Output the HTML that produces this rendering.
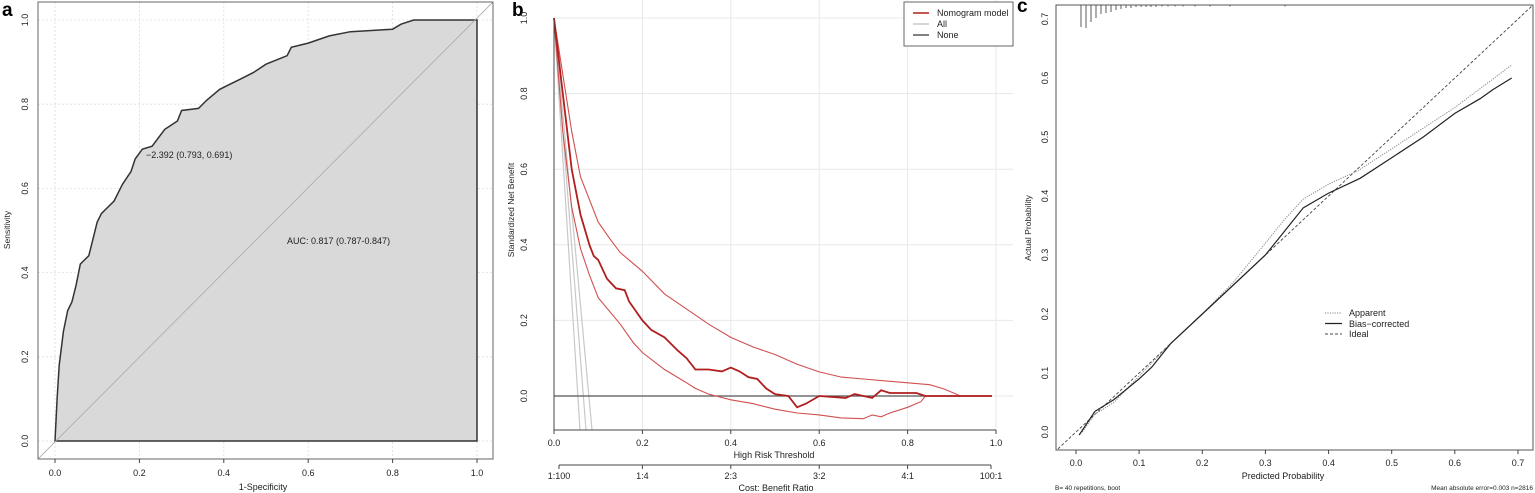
<!DOCTYPE html>
<html><head><meta charset="utf-8"><style>
html,body{margin:0;padding:0;background:#fff;}
svg{display:block;font-family:"Liberation Sans",Arial,sans-serif;}
</style></head><body>
<svg width="1535" height="493" viewBox="0 0 1535 493" xmlns="http://www.w3.org/2000/svg">
<defs>
<clipPath id="ca"><rect x="38" y="2" width="455" height="457"/></clipPath>
<clipPath id="cb"><rect x="520" y="0" width="500" height="430"/></clipPath>
<clipPath id="cc"><rect x="1056" y="5" width="477" height="445"/></clipPath>
</defs>
<rect width="1535" height="493" fill="#fff"/>

<!-- Panel a -->
<text x="2" y="16" font-size="19" font-weight="bold">a</text>
<g stroke="#ddd" stroke-dasharray="2,2" stroke-width="0.8">
<line x1="55" y1="2" x2="55" y2="459"/><line x1="139.4" y1="2" x2="139.4" y2="459"/><line x1="223.8" y1="2" x2="223.8" y2="459"/><line x1="308.2" y1="2" x2="308.2" y2="459"/><line x1="392.6" y1="2" x2="392.6" y2="459"/><line x1="477" y1="2" x2="477" y2="459"/>
<line x1="38" y1="20" x2="493" y2="20"/><line x1="38" y1="104.2" x2="493" y2="104.2"/><line x1="38" y1="188.4" x2="493" y2="188.4"/><line x1="38" y1="272.6" x2="493" y2="272.6"/><line x1="38" y1="356.8" x2="493" y2="356.8"/><line x1="38" y1="441" x2="493" y2="441"/>
</g>
<polygon fill="#d9d9d9" stroke="#333" stroke-width="1.5" points="55,441 57.1,398.9 59.2,365.2 63.4,331.5 67.7,310.5 71.9,302.0 76.1,285.2 80.3,264.1 84.5,259.9 88.8,255.7 93.0,238.9 97.2,222.0 101.4,213.6 105.6,209.4 114.1,201.0 118.3,192.6 122.5,184.2 131.0,171.5 135.2,158.9 142.4,149.1 152.1,146.2 164.7,129.4 177.4,121.0 181.6,110.5 198.5,108.4 206.9,100.0 219.6,89.4 228.0,85.2 240.7,78.9 253.3,72.6 266.0,64.2 287.1,55.7 291.3,47.3 308.2,43.1 329.3,35.9 350.4,31.7 392.6,29.2 401.0,24.2 413.7,20 477,20 477,441"/>
<g clip-path="url(#ca)"><line x1="38" y1="459" x2="493" y2="2" stroke="#aaa" stroke-width="0.8"/></g>
<rect x="38" y="2" width="455" height="457" fill="none" stroke="#666" stroke-width="1"/>
<g stroke="#444"><line x1="55" y1="459" x2="55" y2="463"/><line x1="139.4" y1="459" x2="139.4" y2="463"/><line x1="223.8" y1="459" x2="223.8" y2="463"/><line x1="308.2" y1="459" x2="308.2" y2="463"/><line x1="392.6" y1="459" x2="392.6" y2="463"/><line x1="477" y1="459" x2="477" y2="463"/></g>
<g font-size="9" fill="#222" text-anchor="middle">
<text x="55" y="476">0.0</text><text x="139.4" y="476">0.2</text><text x="223.8" y="476">0.4</text><text x="308.2" y="476">0.6</text><text x="392.6" y="476">0.8</text><text x="477" y="476">1.0</text>
<text x="263" y="490">1-Specificity</text>
<text transform="translate(28,441) rotate(-90)">0.0</text><text transform="translate(28,356.8) rotate(-90)">0.2</text><text transform="translate(28,272.6) rotate(-90)">0.4</text><text transform="translate(28,188.4) rotate(-90)">0.6</text><text transform="translate(28,104.2) rotate(-90)">0.8</text><text transform="translate(28,20) rotate(-90)">1.0</text>
<text transform="translate(10,230) rotate(-90)" font-size="8.5">Sensitivity</text>
</g>
<text x="146" y="158" font-size="9" fill="#222">−2.392 (0.793, 0.691)</text>
<text x="287" y="244" font-size="9" fill="#222">AUC: 0.817 (0.787-0.847)</text>

<!-- Panel b -->
<text x="512" y="16" font-size="19" font-weight="bold">b</text>
<g stroke="#e8e8e8" stroke-width="1">
<line x1="642.4" y1="0" x2="642.4" y2="430"/><line x1="730.8" y1="0" x2="730.8" y2="430"/><line x1="819.2" y1="0" x2="819.2" y2="430"/><line x1="907.6" y1="0" x2="907.6" y2="430"/><line x1="996" y1="0" x2="996" y2="430"/>
<line x1="554" y1="18" x2="1013" y2="18"/><line x1="554" y1="93.6" x2="1013" y2="93.6"/><line x1="554" y1="169.2" x2="1013" y2="169.2"/><line x1="554" y1="244.8" x2="1013" y2="244.8"/><line x1="554" y1="320.4" x2="1013" y2="320.4"/><line x1="554" y1="396" x2="1013" y2="396"/>
</g>
<g clip-path="url(#cb)" fill="none">
<line x1="554" y1="18" x2="580" y2="430" stroke="#c8c8c8" stroke-width="1.2"/>
<line x1="554" y1="18" x2="586" y2="430" stroke="#c8c8c8" stroke-width="1.2"/>
<line x1="554" y1="18" x2="592" y2="430" stroke="#c8c8c8" stroke-width="1.2"/>
<line x1="554" y1="396" x2="992" y2="396" stroke="#555" stroke-width="1.2"/>
<polyline stroke="#d05050" stroke-width="1.1" points="554,18 571.7,131.4 580.5,176.8 598.2,222.1 608.8,237.3 620.1,252.4 642.4,271.3 664.5,293.9 686.6,309.1 708.7,324.2 730.8,337.4 752.9,346.9 775,354.5 797.1,364.3 819.2,371.9 841.3,377.1 863.4,379.0 885.5,380.9 907.6,382.8 929.7,384.7 943,388.6 951.8,392.2 960.6,396 992,396"/>
<polyline stroke="#d05050" stroke-width="1.1" points="554,18 562.8,131.4 571.7,207 580.5,248.6 589.4,275 598.2,297.7 620.3,324.2 633.6,343.1 642.4,352.5 664.5,369.5 686.6,382.8 695.4,388.4 708.7,394.1 730.8,399.8 752.9,403.6 775,409.2 797.1,413.0 819.2,414.9 841.3,417.9 863.4,418.7 872.2,414.9 881.1,416.8 889.9,413.0 907.6,407.3 920.9,401.7 925.3,396 992,396"/>
<polyline stroke="#b01e1e" stroke-width="1.8" points="554,18 562.8,93.6 571.7,169.2 580.5,214.6 589.4,244.8 593.8,256.1 598.2,259.9 607,278.8 615.9,288.3 624.7,290.2 629.1,301.5 642.4,320.4 651.2,329.9 664.5,337.4 677.8,350.6 686.6,358.2 695.4,369.5 708.7,369.5 721.9,371.4 730.8,367.6 739.6,371.4 748.4,377.1 757.3,379 766.1,388.4 775,394.1 788.3,396 797.1,407.3 806,403.6 819.2,396 845.7,397.9 854.6,394.1 863.4,396 872.2,397.9 881.1,390.3 889.9,393 916.4,393 925.3,396 992,396"/>
</g>
<line x1="554" y1="18" x2="554" y2="430" stroke="#444"/>
<line x1="554" y1="430" x2="996" y2="430" stroke="#444"/>
<g stroke="#444"><line x1="554" y1="430" x2="554" y2="434"/><line x1="642.4" y1="430" x2="642.4" y2="434"/><line x1="730.8" y1="430" x2="730.8" y2="434"/><line x1="819.2" y1="430" x2="819.2" y2="434"/><line x1="907.6" y1="430" x2="907.6" y2="434"/><line x1="996" y1="430" x2="996" y2="434"/>
<line x1="559" y1="465" x2="991" y2="465"/><line x1="559" y1="465" x2="559" y2="469"/><line x1="642.4" y1="465" x2="642.4" y2="469"/><line x1="730.8" y1="465" x2="730.8" y2="469"/><line x1="819.2" y1="465" x2="819.2" y2="469"/><line x1="907.6" y1="465" x2="907.6" y2="469"/><line x1="991" y1="465" x2="991" y2="469"/></g>
<g font-size="9" fill="#222" text-anchor="middle">
<text x="554" y="446">0.0</text><text x="642.4" y="446">0.2</text><text x="730.8" y="446">0.4</text><text x="819.2" y="446">0.6</text><text x="907.6" y="446">0.8</text><text x="996" y="446">1.0</text>
<text x="774" y="458">High Risk Threshold</text>
<text x="559" y="479">1:100</text><text x="642.4" y="479">1:4</text><text x="730.8" y="479">2:3</text><text x="819.2" y="479">3:2</text><text x="907.6" y="479">4:1</text><text x="991" y="479">100:1</text>
<text x="776" y="491">Cost: Benefit Ratio</text>
<text transform="translate(527,396) rotate(-90)">0.0</text><text transform="translate(527,320.4) rotate(-90)">0.2</text><text transform="translate(527,244.8) rotate(-90)">0.4</text><text transform="translate(527,169.2) rotate(-90)">0.6</text><text transform="translate(527,93.6) rotate(-90)">0.8</text><text transform="translate(527,18) rotate(-90)">1.0</text>
<text transform="translate(514,210) rotate(-90)" font-size="8.5">Standardized Net Benefit</text>
</g>
<rect x="904" y="2" width="109" height="44" fill="#fff" stroke="#666"/>
<line x1="913" y1="13" x2="929" y2="13" stroke="#b01e1e" stroke-width="1.5"/>
<line x1="913" y1="24" x2="929" y2="24" stroke="#c8c8c8" stroke-width="1.5"/>
<line x1="913" y1="35" x2="929" y2="35" stroke="#555" stroke-width="1.5"/>
<g font-size="9" fill="#222"><text x="937" y="16">Nomogram model</text><text x="937" y="27">All</text><text x="937" y="38">None</text></g>

<!-- Panel c -->
<text x="1017" y="12" font-size="19" font-weight="bold">c</text>
<g stroke="#333" stroke-width="0.8">
<line x1="1081" y1="5" x2="1081" y2="27"/><line x1="1086" y1="5" x2="1086" y2="28"/><line x1="1091" y1="5" x2="1091" y2="22"/><line x1="1096" y1="5" x2="1096" y2="18"/><line x1="1101" y1="5" x2="1101" y2="14"/><line x1="1106" y1="5" x2="1106" y2="13"/><line x1="1111" y1="5" x2="1111" y2="12"/><line x1="1116" y1="5" x2="1116" y2="10"/><line x1="1121" y1="5" x2="1121" y2="9"/><line x1="1126" y1="5" x2="1126" y2="8"/><line x1="1131" y1="5" x2="1131" y2="8"/><line x1="1136" y1="5" x2="1136" y2="7"/><line x1="1141" y1="5" x2="1141" y2="7"/><line x1="1146" y1="5" x2="1146" y2="7"/><line x1="1151" y1="5" x2="1151" y2="7"/><line x1="1156" y1="5" x2="1156" y2="7"/><line x1="1162" y1="5" x2="1162" y2="6.5"/><line x1="1168" y1="5" x2="1168" y2="6.5"/><line x1="1175" y1="5" x2="1175" y2="6.5"/><line x1="1183" y1="5" x2="1183" y2="6.5"/><line x1="1195" y1="5" x2="1195" y2="6.5"/><line x1="1210" y1="5" x2="1210" y2="6.5"/><line x1="1230" y1="5" x2="1230" y2="6.5"/><line x1="1285" y1="5" x2="1285" y2="6.5"/>
</g>
<g clip-path="url(#cc)" fill="none">
<line x1="1036" y1="469.4" x2="1536" y2="2.2" stroke="#444" stroke-width="0.9" stroke-dasharray="3,2"/>
<polyline stroke="#888" stroke-width="1" stroke-dasharray="1.2,1.2" points="1082.3,432 1094.9,414.3 1113.9,402.5 1139.1,376 1170.7,343.5 1202.3,314 1233.9,281.6 1265.4,243.1 1284.4,219.6 1303.3,199 1328.6,184.2 1360.1,169.4 1391.7,148.8 1454.8,107.5 1511.7,65"/>
<polyline stroke="#222" stroke-width="1.2" points="1079.2,435 1094.9,411.4 1113.9,399.6 1139.1,378.9 1151.8,367.1 1170.7,343.5 1202.3,314 1233.9,284.5 1265.4,255 1284.4,231.4 1303.3,207.8 1328.6,193.1 1360.1,178.3 1391.7,157.7 1423.3,137 1454.8,113.4 1480.1,98.7 1492.7,89.8 1511.7,78"/>
</g>
<rect x="1056" y="5" width="477" height="445" fill="none" stroke="#555" stroke-width="1"/>
<g stroke="#444"><line x1="1076" y1="450" x2="1076" y2="454"/><line x1="1139.1" y1="450" x2="1139.1" y2="454"/><line x1="1202.3" y1="450" x2="1202.3" y2="454"/><line x1="1265.4" y1="450" x2="1265.4" y2="454"/><line x1="1328.6" y1="450" x2="1328.6" y2="454"/><line x1="1391.7" y1="450" x2="1391.7" y2="454"/><line x1="1454.8" y1="450" x2="1454.8" y2="454"/><line x1="1518" y1="450" x2="1518" y2="454"/></g>
<g font-size="9" fill="#222" text-anchor="middle">
<text x="1076" y="466">0.0</text><text x="1139.1" y="466">0.1</text><text x="1202.3" y="466">0.2</text><text x="1265.4" y="466">0.3</text><text x="1328.6" y="466">0.4</text><text x="1391.7" y="466">0.5</text><text x="1454.8" y="466">0.6</text><text x="1518" y="466">0.7</text>
<text x="1283" y="479">Predicted Probability</text>
<text transform="translate(1048,432) rotate(-90)">0.0</text><text transform="translate(1048,373) rotate(-90)">0.1</text><text transform="translate(1048,314) rotate(-90)">0.2</text><text transform="translate(1048,255) rotate(-90)">0.3</text><text transform="translate(1048,196) rotate(-90)">0.4</text><text transform="translate(1048,137) rotate(-90)">0.5</text><text transform="translate(1048,78) rotate(-90)">0.6</text><text transform="translate(1048,19) rotate(-90)">0.7</text>
<text transform="translate(1031,228) rotate(-90)" font-size="8.5">Actual Probability</text>
</g>
<text x="1055" y="490" font-size="6.5" fill="#222">B= 40 repetitions, boot</text>
<text x="1533" y="490" font-size="6.5" fill="#222" text-anchor="end">Mean absolute error=0.003 n=2816</text>
<line x1="1325" y1="313" x2="1342" y2="313" stroke="#888" stroke-dasharray="1.2,1.2"/>
<line x1="1325" y1="323.5" x2="1342" y2="323.5" stroke="#222" stroke-width="1.2"/>
<line x1="1325" y1="334" x2="1342" y2="334" stroke="#444" stroke-dasharray="3,2"/>
<g font-size="9" fill="#222"><text x="1349" y="316">Apparent</text><text x="1349" y="327">Bias−corrected</text><text x="1349" y="337">Ideal</text></g>
</svg>
</body></html>
